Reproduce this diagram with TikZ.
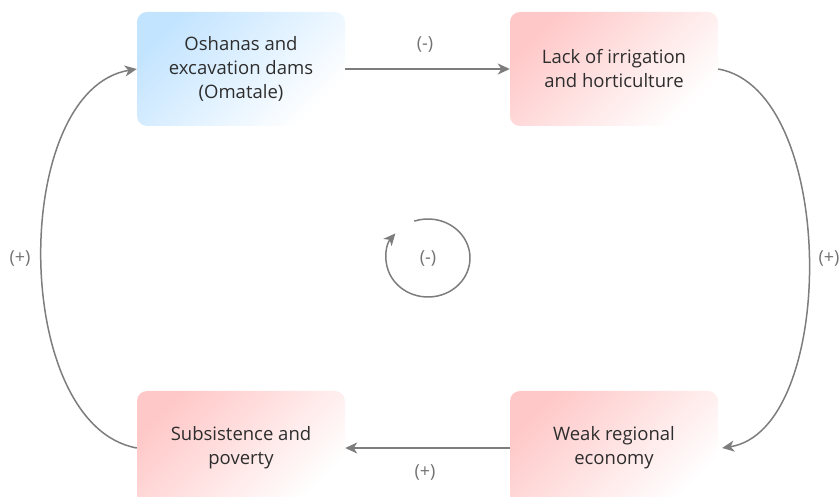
\documentclass[tikz,border=0pt]{standalone}
\usepackage{fontspec}
\setmainfont{Open Sans}
\usetikzlibrary{arrows.meta}
\definecolor{pinkfill}{RGB}{255,200,200}
\definecolor{bluefill}{RGB}{195,228,255}
\definecolor{linkgray}{RGB}{125,125,125}
\definecolor{labelgray}{RGB}{115,115,115}
\definecolor{textdark}{RGB}{45,45,45}
\tikzset{
  x=1pt, y=-1pt,
  factor/.style={rectangle, rounded corners=10pt, minimum width=208pt, minimum height=114pt,
    align=center, text=textdark, font=\fontsize{18.5}{24}\selectfont},
  redbox/.style={factor, top color=pinkfill, bottom color=white, shading angle=45},
  bluebox/.style={factor, top color=bluefill, bottom color=white, shading angle=45},
  link/.style={draw=linkgray, line width=1.5pt,
    -{Stealth[length=12pt, width=11pt, inset=3.5pt]}},
  sign/.style={text=labelgray, font=\fontsize{18}{20}\selectfont},
}
\begin{document}
\begin{tikzpicture}
\useasboundingbox (0,0) rectangle (839,497);
\clip (0,0) rectangle (839,497);

% the four factors of the loop
\node[bluebox] (dams) at (241,69) {Oshanas and\\excavation dams\\(Omatale)};
\node[redbox] (irrig) at (614,69) {Lack of irrigation\\and horticulture};
\node[redbox] (econ) at (614,448) {Weak regional\\economy};
\node[redbox] (pov) at (241,448) {Subsistence and\\poverty};

% causal links
\draw[link] (dams.east) -- (irrig.west);
\draw[link] (irrig.east) .. controls (838,90) and (838,430) .. ([xshift=4pt]econ.east);
\draw[link] (econ.west) -- (pov.west -| pov.east);
\draw[link] (pov.west) .. controls (10,425) and (10,90) .. (dams.west);

% link polarities
\node[sign] (s1) at (425,45) {(-)};
\node[sign] (s2) at (829,258) {(+)};
\node[sign] (s3) at (425,472) {(+)};
\node[sign] (s4) at (20,258) {(+)};

% loop marker
\coordinate (loopc) at (428,258);
\draw[link] ([shift={(109:42pt and 39pt)}]loopc) arc[start angle=109, end angle=-219, x radius=42pt, y radius=39pt];
\node[sign] (s5) at (loopc) {(-)};
\end{tikzpicture}
\end{document}
